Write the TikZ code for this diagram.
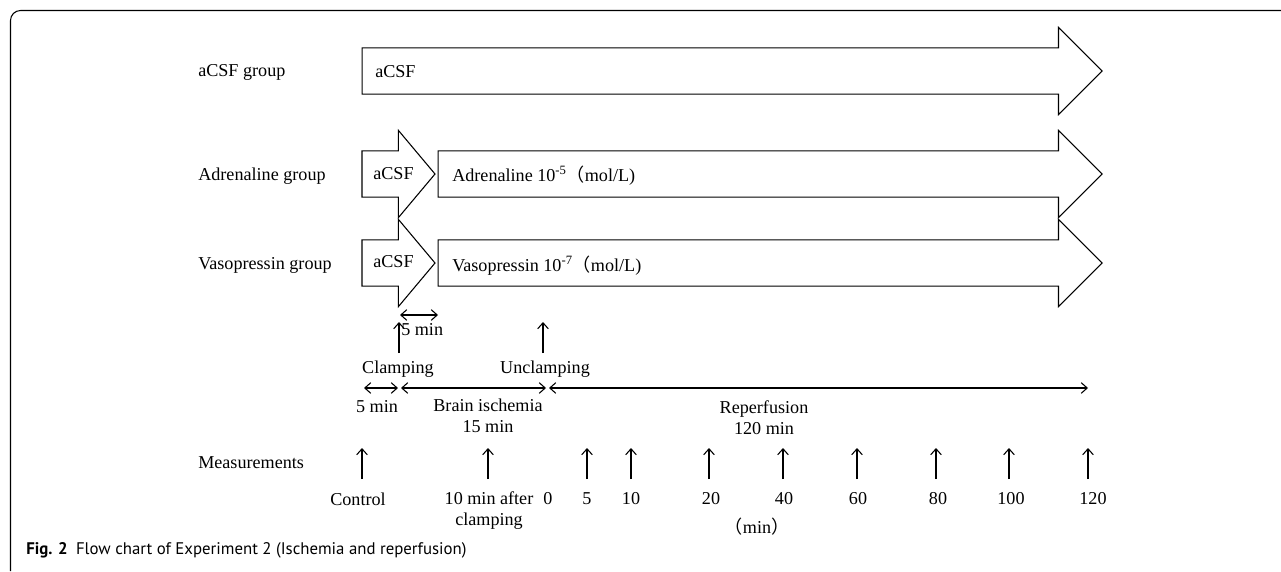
\documentclass[tikz,border=0pt]{standalone}
\usepackage{fontspec}
\setmainfont{Liberation Serif}
\newfontfamily\capfont{PT Sans}
\newfontfamily\cjk{Noto Sans CJK SC}
\usepackage{tikz}
\usetikzlibrary{shapes.arrows,arrows.meta,positioning}

\tikzset{
  grparrow/.style={single arrow, draw, line width=0.8pt, inner xsep=0pt, inner ysep=16.9pt,
    outer sep=0pt, single arrow head extend=15.4pt, single arrow tip angle=90, anchor=west},
  smallarrow/.style={grparrow, single arrow tip angle=100, minimum height=54.75pt},
  lbl/.style={font=\fontsize{13.6}{15.8}\selectfont, inner sep=0pt},
  timeline/.style={line width=0.8pt, <->},
  uparrow/.style={line width=0.8pt, ->}
}

\begin{document}
\begin{tikzpicture}[x=0.75pt, y=-0.75pt, >={Straight Barb[length=4.5pt,width=8pt]}]
\useasboundingbox (0,0) rectangle (1281,571);
% frame
\draw[line width=0.8pt, rounded corners=7.5pt] (10.5,571) -- (10.5,10.5) -- (1281,10.5);

% groups
\node[lbl, anchor=west] (gacsf) at (198,72) {aCSF group};
\node[lbl, anchor=west] (gadr) at (198,176) {Adrenaline group};
\node[lbl, anchor=west] (gvaso) at (198,265) {Vasopressin group};

\node[grparrow, minimum height=555pt] (acsfbar) at (362,71) {};
\node[lbl, anchor=west] at (375,72) {aCSF};

\node[smallarrow] (adrpre) at (362,174) {};
\node[lbl, anchor=west] at (373,174) {aCSF};
\node[grparrow, minimum height=498pt] (adrbar) at (438,174) {};
\node[lbl, anchor=west] at (452,176) {Adrenaline 10\textsuperscript{-5}{\cjk （}mol/L)};

\node[smallarrow] (vasopre) at (362,263) {};
\node[lbl, anchor=west] at (373,262) {aCSF};
\node[grparrow, minimum height=498pt] (vasobar) at (438,263) {};
\node[lbl, anchor=west] at (452,266) {Vasopressin 10\textsuperscript{-7}{\cjk （}mol/L)};

% clamping
\coordinate (d1) at (400,315);
\coordinate (d2) at (438,315);
\draw[timeline] (d1) -- (d2);
\node[lbl, anchor=west] (dmin) at (401,330) {5 min};
\coordinate (cb) at (399,353);
\coordinate (ct) at (399,322);
\draw[uparrow] (cb) -- (ct);
\coordinate (ub) at (543,353);
\coordinate (ut) at (543,322);
\draw[uparrow] (ub) -- (ut);
\node[lbl] (clamp) at (398,369) {Clamping};
\node[lbl] (unclamp) at (545,369) {Unclamping};

% time line
\coordinate (t0) at (364,388);
\coordinate (t1) at (398,388);
\coordinate (t2) at (401,388);
\coordinate (t3) at (546,388);
\coordinate (t4) at (549,388);
\coordinate (t5) at (1088,388);
\draw[timeline] (t0) -- (t1);
\draw[timeline] (t2) -- (t3);
\draw[timeline] (t4) -- (t5);
\node[lbl] (ctrlmin) at (377,407) {5 min};
\node[lbl, align=center] (isch) at (488,416) {Brain ischemia\\15 min};
\node[lbl, align=center] (reper) at (764,418) {Reperfusion\\120 min};

% measurements
\node[lbl, anchor=west] (meas) at (198,463) {Measurements};
\foreach \x [count=\i] in {362,488,587,631,709,783,857,936,1009,1088} {
  \coordinate (mb\i) at (\x,479);
  \coordinate (mt\i) at (\x,448);
  \draw[uparrow] (mb\i) -- (mt\i);
}
\node[lbl] (mctrl) at (358,499) {Control};
\node[lbl, align=center, anchor=north] (mten) at (489,491) {10 min after\\clamping};
\foreach \x/\t [count=\i] in {548/0,587/5,631/10,711/20,784/40,858/60,938/80,1011/100,1093/120}
  \node[lbl] (mt\t) at (\x,499) {\t};
\node[lbl] (unit) at (757,527) {{\cjk （}min{\cjk ）}};

% caption
\node[anchor=west, inner sep=0pt, font=\capfont\fontsize{12.6}{15}\selectfont] (cap) at (26,550)
  {\textbf{Fig. 2}\enspace Flow chart of Experiment 2 (Ischemia and reperfusion)};
\end{tikzpicture}
\end{document}
